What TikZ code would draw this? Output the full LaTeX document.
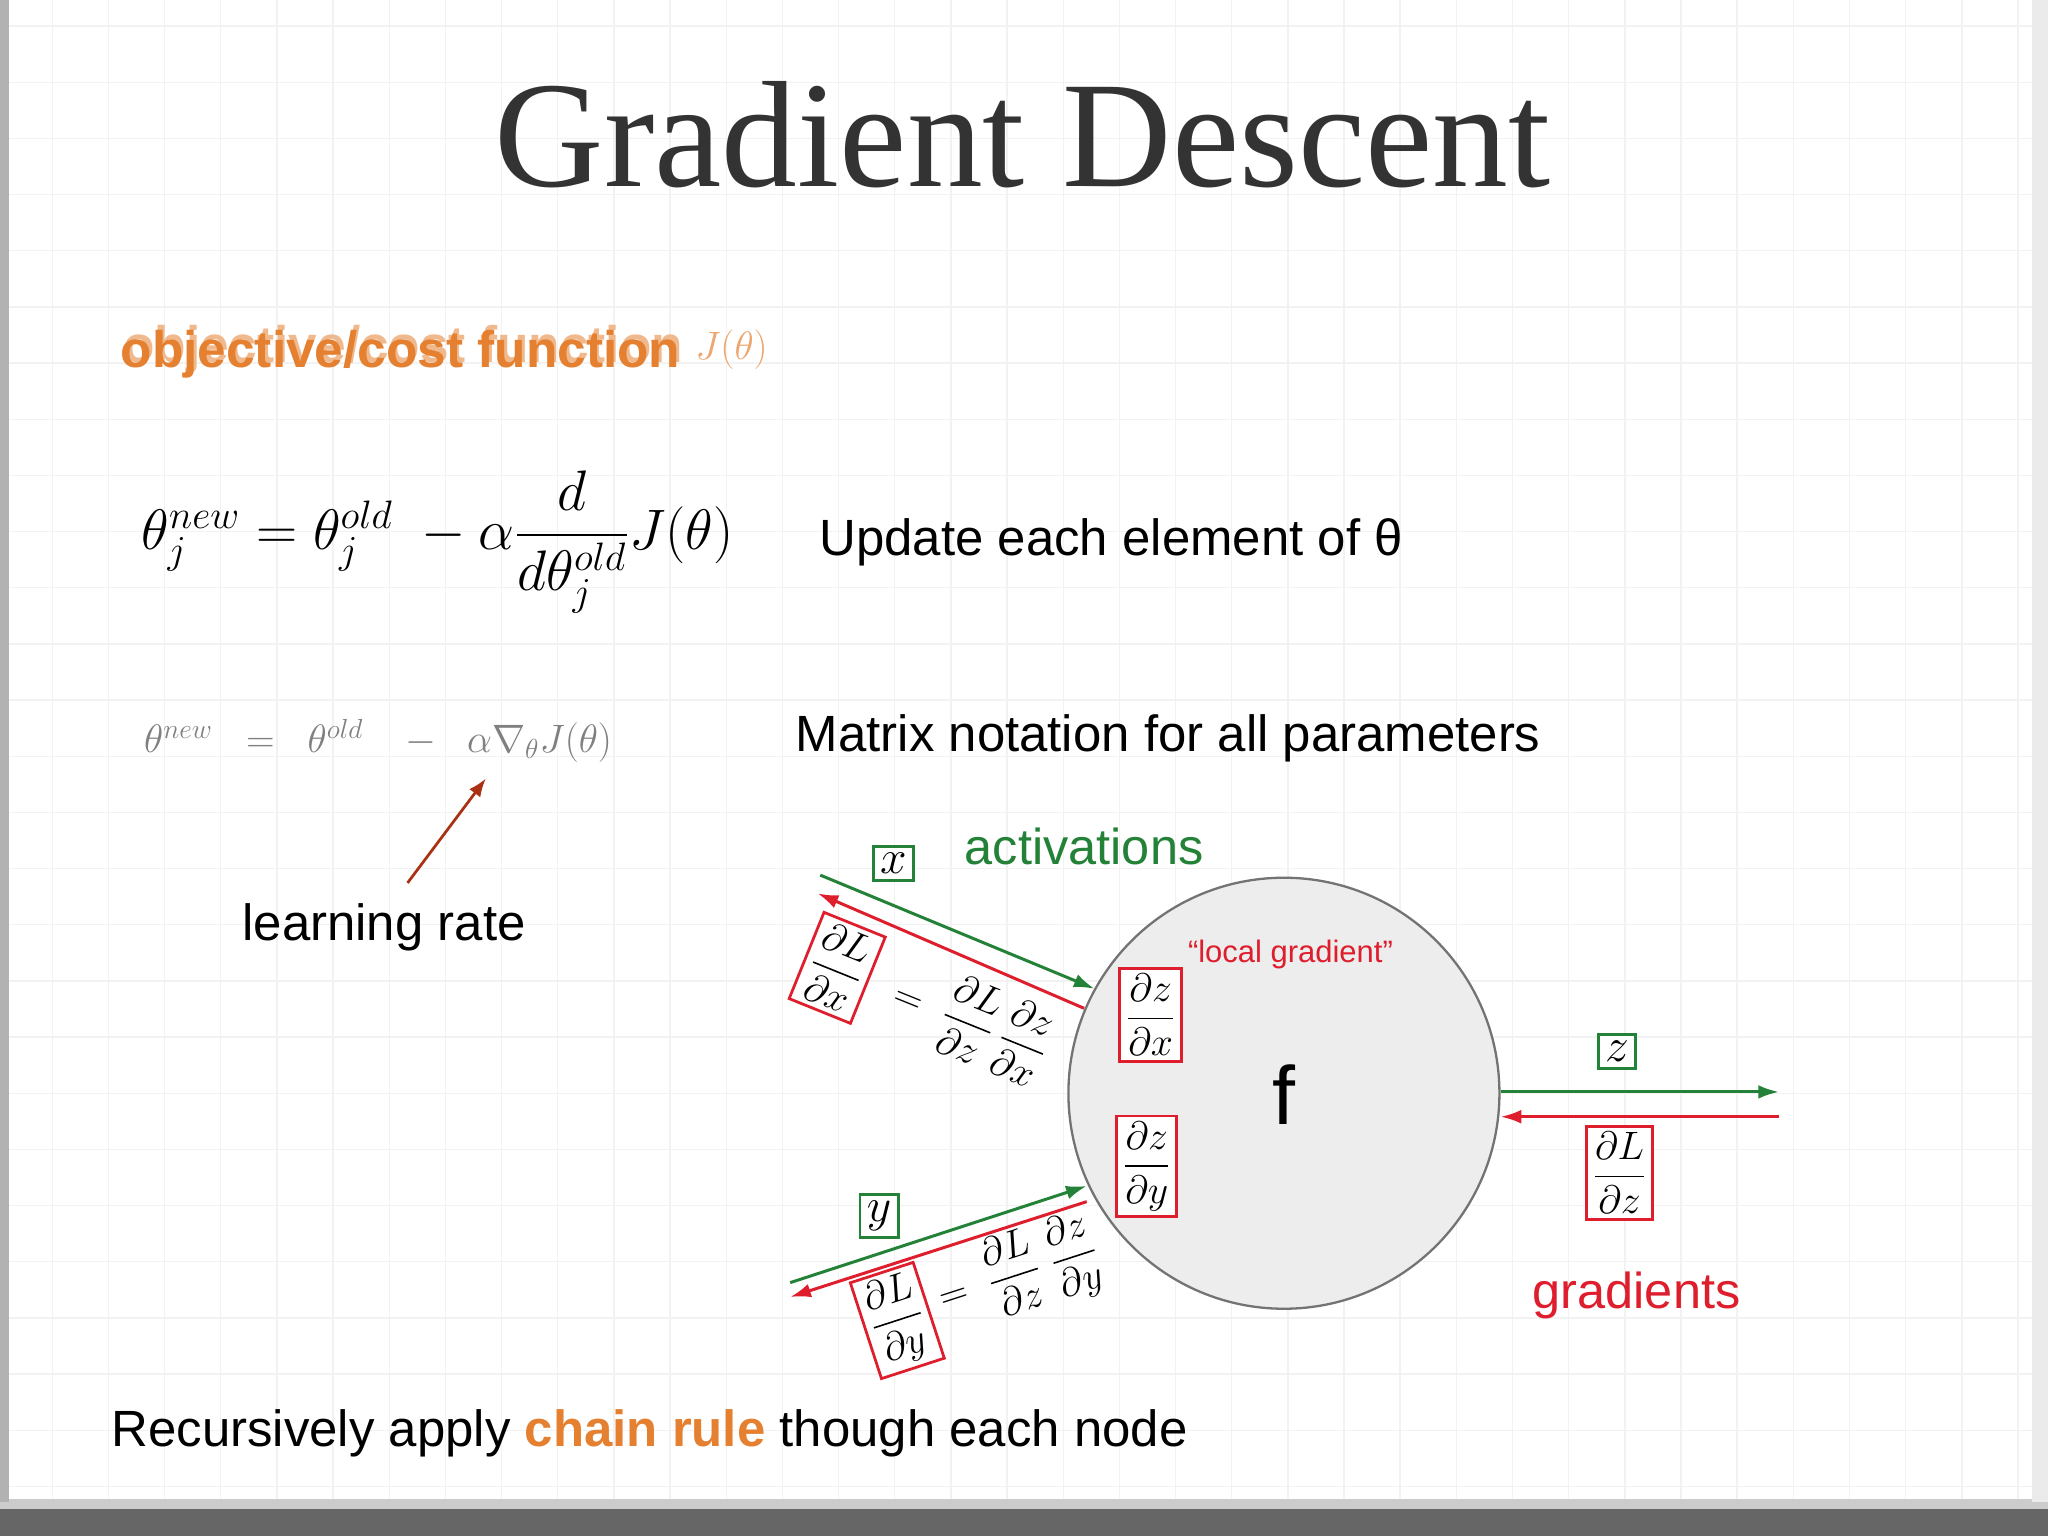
\documentclass[tikz,border=0pt]{standalone}
\usepackage{fontspec}
\usepackage{amsmath}
\setmainfont{Liberation Sans}
\newfontfamily\titlefont{Liberation Serif}
\definecolor{actg}{RGB}{35,130,55}
\definecolor{gradr}{RGB}{222,30,45}
\definecolor{orng}{RGB}{228,128,48}
\definecolor{arrbr}{RGB}{170,50,20}
\usetikzlibrary{arrows.meta}
\tikzset{
  gbox/.style={draw=actg,line width=1.2pt,inner sep=3pt,fill=white,font=\fontsize{20}{22}\selectfont},
  rbox/.style={draw=gradr,line width=1.2pt,inner sep=2.5pt,fill=white,font=\fontsize{17}{20}\selectfont},
  gline/.style={draw=actg,line width=1.3pt,-{Latex[length=9pt,width=6pt]}},
  rline/.style={draw=gradr,line width=1.3pt,-{Latex[length=9pt,width=6pt]}},
  txt/.style={font=\fontsize{22.2}{26}\selectfont,inner sep=0pt},
  eqtxt/.style={font=\fontsize{17}{20}\selectfont,inner sep=0pt}
}
\begin{document}
\begin{tikzpicture}[x=0.02cm,y=-0.02cm]
\useasboundingbox (0,0) rectangle (1568,1176);
% background
\fill[white] (0,0) rectangle (1568,1176);
\foreach \gx in {40,83,...,1568} \draw[black!5,line width=0.6pt] (\gx,0) -- (\gx,1150);
\foreach \gy in {20,63,...,1150} \draw[black!5,line width=0.6pt] (0,\gy) -- (1568,\gy);
\fill[black!60] (0,1155) rectangle (1568,1176);
\fill[black!20] (0,1148) rectangle (1568,1155);
\fill[black!30] (0,0) rectangle (7,1150);
\fill[black!8] (1556,0) rectangle (1568,1150);
% title
\node[font=\titlefont\fontsize{66}{72}\selectfont,text=black!80,inner sep=0pt] (title) at (783,103) {Gradient Descent};
% objective
\node[font=\bfseries\fontsize{22.4}{26}\selectfont,text=orng!55,inner sep=0pt,anchor=west] (obj2) at (94,267) {objective/cost function};
\node[font=\bfseries\fontsize{22.4}{26}\selectfont,text=orng,inner sep=0pt,anchor=west] (obj) at (92,271) {objective/cost function};
\node[font=\fontsize{19}{22}\selectfont,text=orng!70,inner sep=0pt,anchor=west] (objJ) at (532,268) {$J(\theta)$};
% equations
\node[font=\fontsize{27}{32}\selectfont,inner sep=0pt,anchor=west] (eq1) at (108,415)
  {$\theta_j^{new} = \theta_j^{old} \;-\alpha\dfrac{d}{d\theta_j^{old}}J(\theta)$};
\node[txt,anchor=west] (upd) at (627,415) {Update each element of θ};
\node[font=\fontsize{17}{20}\selectfont,text=black!50,inner sep=0pt,anchor=west] (eq2) at (110,567)
  {$\theta^{new} \;\;=\;\; \theta^{old} \;\;\;-\;\; \alpha\nabla_{\theta}J(\theta)$};
\node[txt,anchor=west] (mat) at (609,565) {Matrix notation for all parameters};
\node[txt] (lr) at (294,710) {learning rate};
\coordinate (lrs) at (312,676);
\coordinate (lre) at (372,596);
\draw[arrbr,line width=1.2pt,-{Latex[length=8pt,width=6pt]}] (lrs) -- (lre);
% diagram
\node[circle,draw=black!55,fill=black!7,line width=1pt,minimum size=330*0.02cm,inner sep=0pt] (f) at (983,837) {};
\node[font=\fontsize{36}{38}\selectfont,inner sep=0pt] (flab) at (983,838) {f};
\node[font=\fontsize{13.5}{15}\selectfont,text=gradr,inner sep=0pt] (loc) at (988,731) {``local gradient''};
\node[rbox] (dzdx) at (881,777) {$\dfrac{\partial z}{\partial x}$};
\node[rbox] (dzdy) at (878,893) {$\dfrac{\partial z}{\partial y}$};
\node[font=\fontsize{22}{25}\selectfont,text=actg,inner sep=0pt] (act) at (830,648) {activations};
\node[font=\fontsize{22}{25}\selectfont,text=gradr,inner sep=0pt] (grd) at (1253,992) {gradients};
% x input
\node[gbox] (xb) at (684,661) {$x$};
\coordinate (xg0) at (628,670);
\coordinate (xg1) at (838,757);
\coordinate (xr0) at (830,772);
\coordinate (xr1) at (626,684);
\draw[gline] (xg0) -- (xg1);
\draw[rline] (xr0) -- (xr1);
\node[rbox,rotate=-22] (dldx) at (641,741) {$\dfrac{\partial L}{\partial x}$};
\node[eqtxt,rotate=-22] (xeq) at (744,782) {$=\;\dfrac{\partial L}{\partial z}\,\dfrac{\partial z}{\partial x}$};
% y input
\node[gbox] (yb) at (673,931) {$y$};
\coordinate (yg0) at (605,982);
\coordinate (yg1) at (832,908);
\coordinate (yr0) at (832,920);
\coordinate (yr1) at (605,993);
\draw[gline] (yg0) -- (yg1);
\draw[rline] (yr0) -- (yr1);
\node[rbox,rotate=18] (dldy) at (687,1011) {$\dfrac{\partial L}{\partial y}$};
\node[eqtxt,rotate=18] (yeq) at (780,976) {$=\;\dfrac{\partial L}{\partial z}\;\dfrac{\partial z}{\partial y}$};
% output
\node[gbox] (zb) at (1238,805) {$z$};
\coordinate (zg1) at (1362,836);
\coordinate (zr0) at (1362,855);
\draw[gline] (f.east |- 0,836) -- (zg1);
\draw[rline] (zr0) -- (f.east |- 0,855);
\node[rbox] (dldz) at (1240,898) {$\dfrac{\partial L}{\partial z}$};
% bottom
\node[txt,anchor=west] (bot) at (85,1097) {Recursively apply \textcolor{orng}{\bfseries chain rule} though each node};
\end{tikzpicture}
\end{document}
